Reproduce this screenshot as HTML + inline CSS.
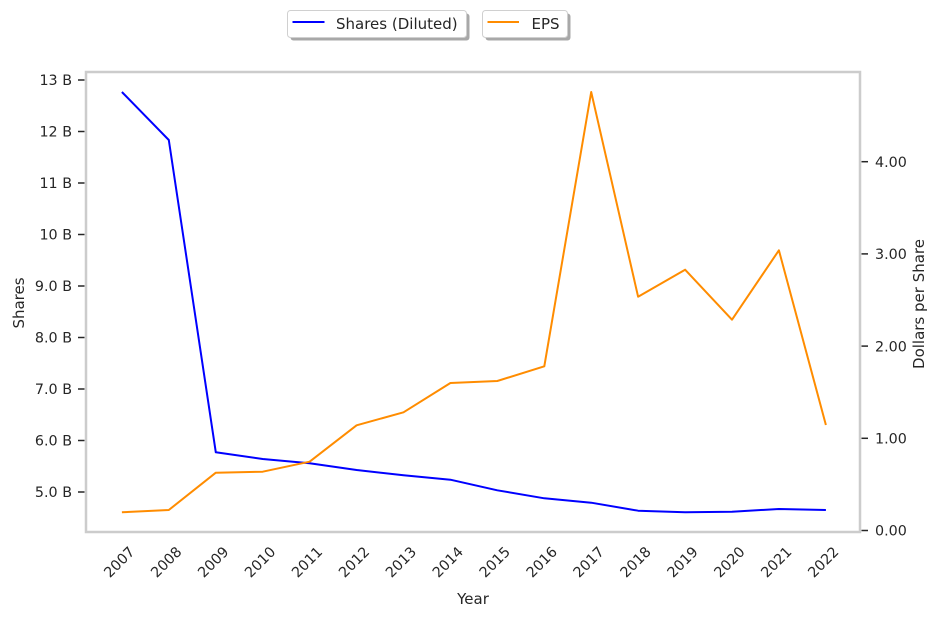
<!DOCTYPE html>
<html>
<head>
<meta charset="utf-8">
<style>
  html, body { margin: 0; padding: 0; background: #ffffff; }
  svg { display: block; }
  text { font-family: "DejaVu Sans", "Liberation Sans", sans-serif; fill: #262626; }
</style>
</head>
<body>
<svg width="942" height="618" viewBox="0 0 942 618" xmlns="http://www.w3.org/2000/svg">
  <rect x="0" y="0" width="942" height="618" fill="#ffffff"/>

  <!-- plot frame -->
  <rect x="86" y="72" width="774" height="460" fill="none" stroke="#cccccc" stroke-width="2.5"/>

  <!-- left ticks -->
  <g stroke="#262626" stroke-width="1.5">
    <line x1="78" y1="80" x2="84.5" y2="80"/>
    <line x1="78" y1="131.5" x2="84.5" y2="131.5"/>
    <line x1="78" y1="183" x2="84.5" y2="183"/>
    <line x1="78" y1="234.5" x2="84.5" y2="234.5"/>
    <line x1="78" y1="286" x2="84.5" y2="286"/>
    <line x1="78" y1="337.5" x2="84.5" y2="337.5"/>
    <line x1="78" y1="389" x2="84.5" y2="389"/>
    <line x1="78" y1="440.5" x2="84.5" y2="440.5"/>
    <line x1="78" y1="492" x2="84.5" y2="492"/>
  </g>
  <g font-size="14.3" text-anchor="end">
    <text x="72" y="85.2">13 B</text>
    <text x="72" y="136.7">12 B</text>
    <text x="72" y="188.2">11 B</text>
    <text x="72" y="239.7">10 B</text>
    <text x="72" y="291.2">9.0 B</text>
    <text x="72" y="342.7">8.0 B</text>
    <text x="72" y="394.2">7.0 B</text>
    <text x="72" y="445.7">6.0 B</text>
    <text x="72" y="497.2">5.0 B</text>
  </g>

  <!-- right ticks -->
  <g stroke="#262626" stroke-width="1.5">
    <line x1="861.5" y1="161.7" x2="868" y2="161.7"/>
    <line x1="861.5" y1="253.9" x2="868" y2="253.9"/>
    <line x1="861.5" y1="346.1" x2="868" y2="346.1"/>
    <line x1="861.5" y1="438.3" x2="868" y2="438.3"/>
    <line x1="861.5" y1="530.5" x2="868" y2="530.5"/>
  </g>
  <g font-size="14.3" text-anchor="start">
    <text x="875" y="166.9">4.00</text>
    <text x="875" y="259.1">3.00</text>
    <text x="875" y="351.3">2.00</text>
    <text x="875" y="443.5">1.00</text>
    <text x="875" y="535.7">0.00</text>
  </g>

  <!-- x tick labels -->
  <g font-size="14.3" text-anchor="middle">
    <text transform="translate(119.2,562) rotate(-45)" x="0" y="5">2007</text>
    <text transform="translate(166.1,562) rotate(-45)" x="0" y="5">2008</text>
    <text transform="translate(213.1,562) rotate(-45)" x="0" y="5">2009</text>
    <text transform="translate(260.0,562) rotate(-45)" x="0" y="5">2010</text>
    <text transform="translate(306.9,562) rotate(-45)" x="0" y="5">2011</text>
    <text transform="translate(353.9,562) rotate(-45)" x="0" y="5">2012</text>
    <text transform="translate(400.8,562) rotate(-45)" x="0" y="5">2013</text>
    <text transform="translate(447.7,562) rotate(-45)" x="0" y="5">2014</text>
    <text transform="translate(494.6,562) rotate(-45)" x="0" y="5">2015</text>
    <text transform="translate(541.6,562) rotate(-45)" x="0" y="5">2016</text>
    <text transform="translate(588.5,562) rotate(-45)" x="0" y="5">2017</text>
    <text transform="translate(635.4,562) rotate(-45)" x="0" y="5">2018</text>
    <text transform="translate(682.4,562) rotate(-45)" x="0" y="5">2019</text>
    <text transform="translate(729.3,562) rotate(-45)" x="0" y="5">2020</text>
    <text transform="translate(776.2,562) rotate(-45)" x="0" y="5">2021</text>
    <text transform="translate(823.2,562) rotate(-45)" x="0" y="5">2022</text>
  </g>

  <!-- axis labels -->
  <text x="473" y="604" font-size="15" text-anchor="middle">Year</text>
  <text transform="translate(24,303) rotate(-90)" x="0" y="0" font-size="15" text-anchor="middle">Shares</text>
  <text transform="translate(924,304) rotate(-90)" x="0" y="0" font-size="15" text-anchor="middle">Dollars per Share</text>

  <!-- series -->
  <polyline fill="none" stroke="#0000ff" stroke-width="2" stroke-linejoin="round"
    points="121.9,92 168.8,140 215.8,452.3 262.7,459 309.6,463.3 356.6,470 403.5,475.3 450.4,479.7 497.3,490.3 544.3,498.3 591.2,502.7 638.1,510.7 685.1,512.3 732.0,511.7 778.9,509 825.9,510"/>
  <polyline fill="none" stroke="#ff8c00" stroke-width="2" stroke-linejoin="round"
    points="121.9,512.3 168.8,510 215.8,472.7 262.7,471.7 309.6,461.7 356.6,425.3 403.5,412.3 450.4,383 497.3,381 544.3,366.3 591.2,92 638.1,296.7 685.1,269.7 732.0,319.7 778.9,250.3 825.9,425"/>

  <!-- legend -->
  <rect x="290.5" y="13.5" width="179" height="27" rx="3" fill="#999999" opacity="0.85"/>
  <rect x="287.5" y="10.5" width="179" height="27" rx="3" fill="#ffffff" stroke="#d0d0d0" stroke-width="1"/>
  <line x1="292.5" y1="22" x2="324.5" y2="22" stroke="#0000ff" stroke-width="2"/>
  <text x="336" y="29" font-size="15">Shares (Diluted)</text>

  <rect x="485.5" y="13.5" width="85" height="27" rx="3" fill="#999999" opacity="0.85"/>
  <rect x="482.5" y="10.5" width="85" height="27" rx="3" fill="#ffffff" stroke="#d0d0d0" stroke-width="1"/>
  <line x1="487.5" y1="22" x2="519" y2="22" stroke="#ff8c00" stroke-width="2"/>
  <text x="531.5" y="29" font-size="15">EPS</text>
</svg>
</body>
</html>
